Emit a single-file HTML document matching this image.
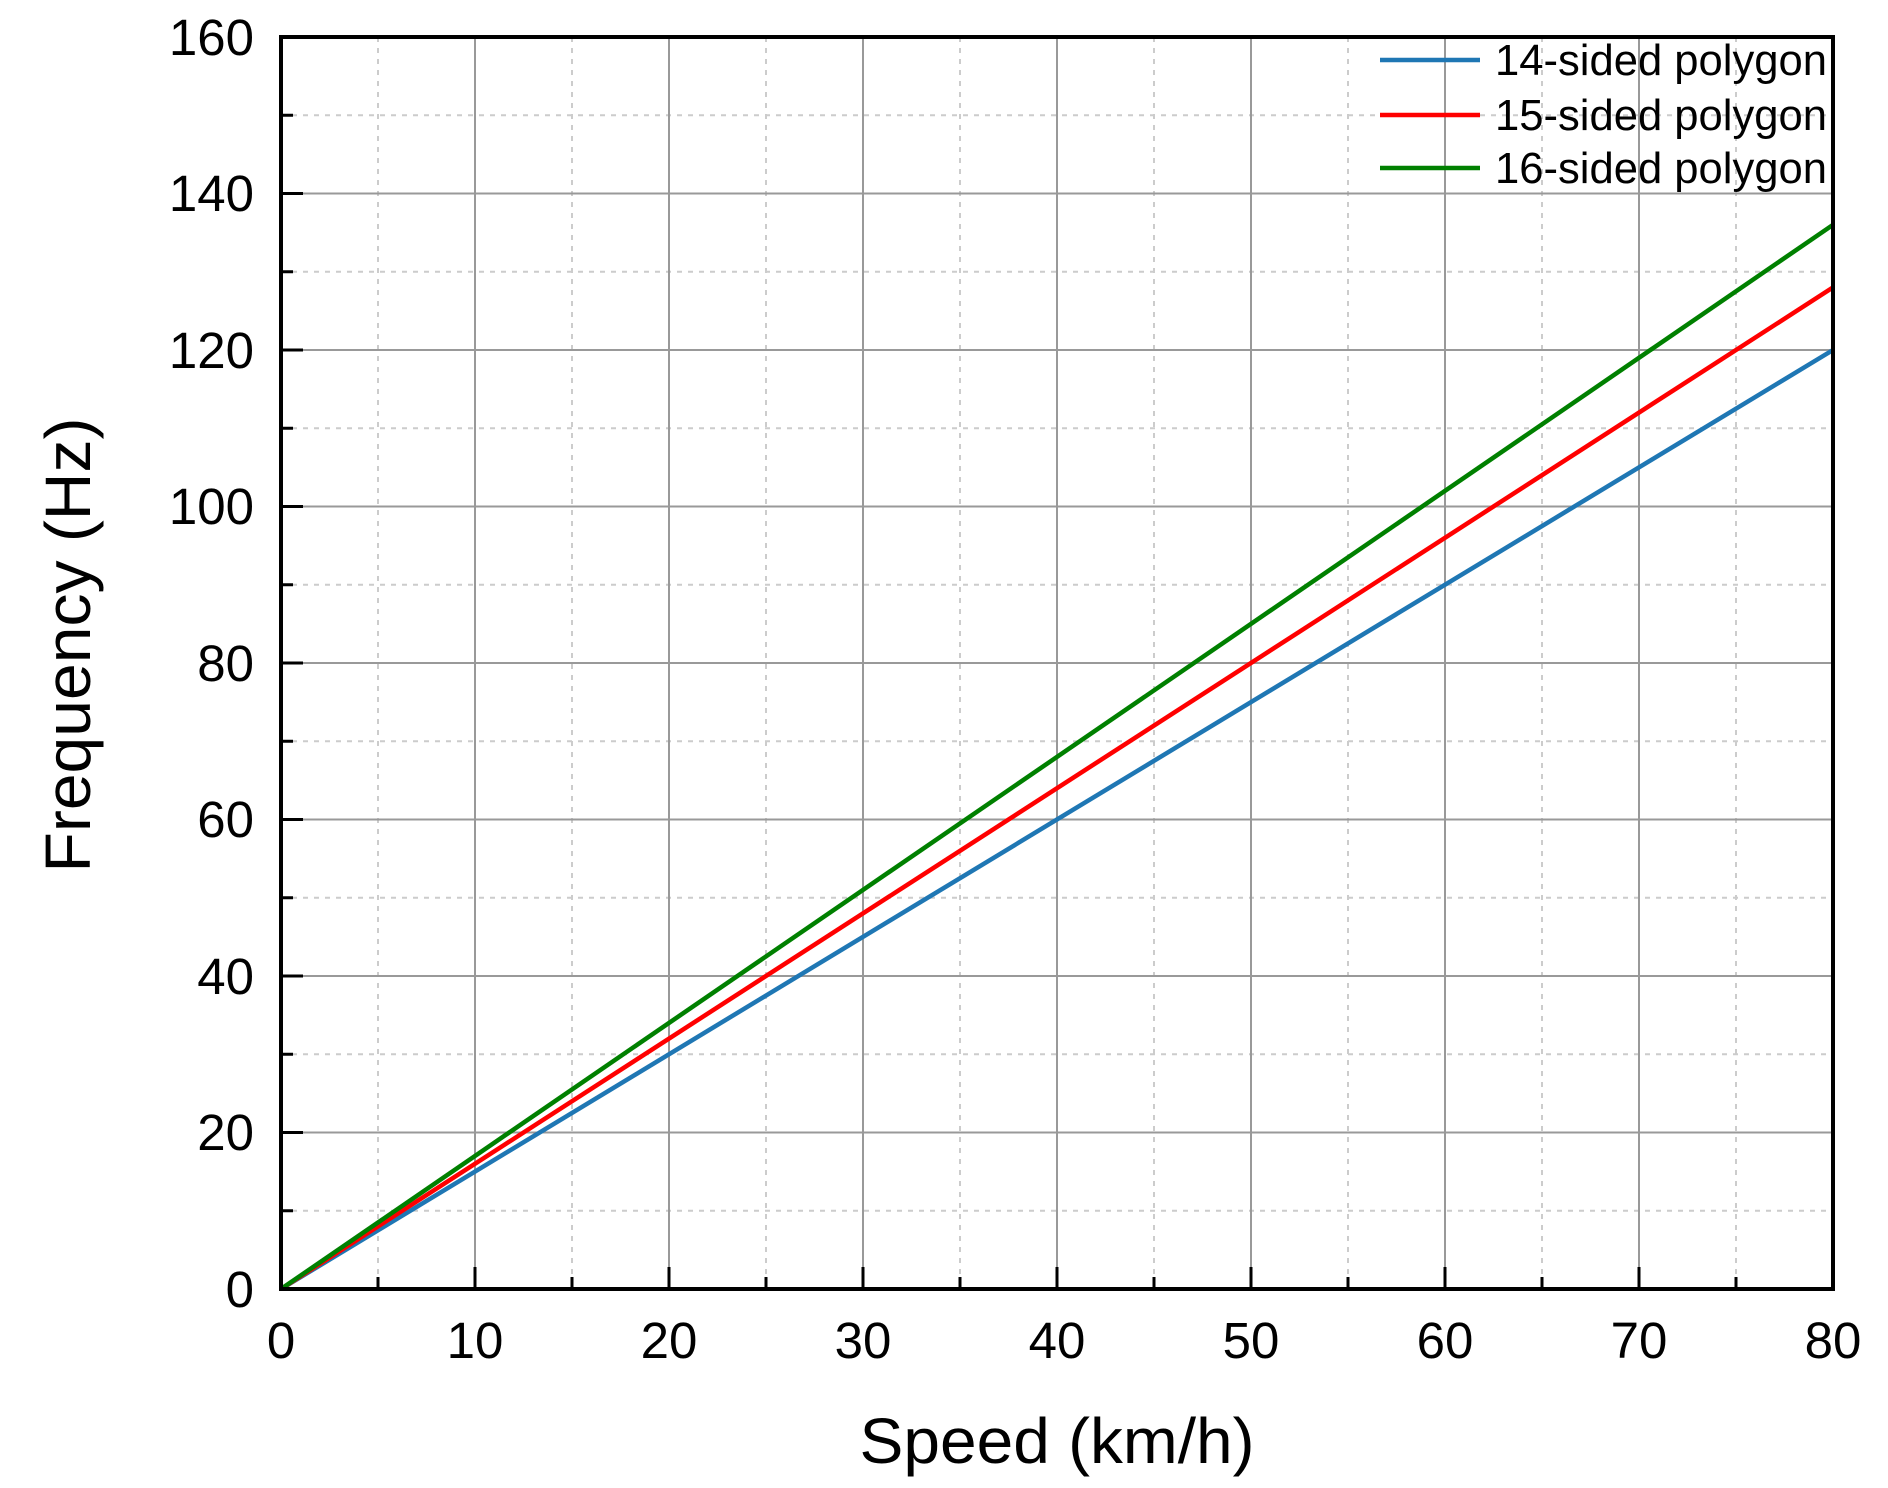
<!DOCTYPE html>
<html><head><meta charset="utf-8"><style>html,body{margin:0;padding:0;background:#fff}svg{display:block}</style></head>
<body>
<svg width="1888" height="1488" viewBox="0 0 1888 1488" xmlns="http://www.w3.org/2000/svg" font-family="Liberation Sans, sans-serif">
<g id="grid">
<g stroke="#ccc" stroke-width="2" stroke-dasharray="5,6">
<line x1="378" y1="37" x2="378" y2="1289"/><line x1="572" y1="37" x2="572" y2="1289"/><line x1="766" y1="37" x2="766" y2="1289"/><line x1="960" y1="37" x2="960" y2="1289"/><line x1="1154" y1="37" x2="1154" y2="1289"/><line x1="1348" y1="37" x2="1348" y2="1289"/><line x1="1542" y1="37" x2="1542" y2="1289"/><line x1="1736" y1="37" x2="1736" y2="1289"/>
<line x1="281" y1="115.25" x2="1833" y2="115.25"/><line x1="281" y1="271.75" x2="1833" y2="271.75"/><line x1="281" y1="428.25" x2="1833" y2="428.25"/><line x1="281" y1="584.75" x2="1833" y2="584.75"/><line x1="281" y1="741.25" x2="1833" y2="741.25"/><line x1="281" y1="897.75" x2="1833" y2="897.75"/><line x1="281" y1="1054.25" x2="1833" y2="1054.25"/><line x1="281" y1="1210.75" x2="1833" y2="1210.75"/>
</g>
<g stroke="#999" stroke-width="2">
<line x1="475" y1="37" x2="475" y2="1289"/><line x1="669" y1="37" x2="669" y2="1289"/><line x1="863" y1="37" x2="863" y2="1289"/><line x1="1057" y1="37" x2="1057" y2="1289"/><line x1="1251" y1="37" x2="1251" y2="1289"/><line x1="1445" y1="37" x2="1445" y2="1289"/><line x1="1639" y1="37" x2="1639" y2="1289"/>
<line x1="281" y1="193.5" x2="1833" y2="193.5"/><line x1="281" y1="350" x2="1833" y2="350"/><line x1="281" y1="506.5" x2="1833" y2="506.5"/><line x1="281" y1="663" x2="1833" y2="663"/><line x1="281" y1="819.5" x2="1833" y2="819.5"/><line x1="281" y1="976" x2="1833" y2="976"/><line x1="281" y1="1132.5" x2="1833" y2="1132.5"/>
</g>
</g>
<g stroke="#000" stroke-width="3">
<path d="M475 1289v-22M669 1289v-22M863 1289v-22M1057 1289v-22M1251 1289v-22M1445 1289v-22M1639 1289v-22"/>
<path d="M378 1289v-12M572 1289v-12M766 1289v-12M960 1289v-12M1154 1289v-12M1348 1289v-12M1542 1289v-12M1736 1289v-12"/>
<path d="M281 193.5h22M281 350h22M281 506.5h22M281 663h22M281 819.5h22M281 976h22M281 1132.5h22"/>
<path d="M281 115.25h12M281 271.75h12M281 428.25h12M281 584.75h12M281 741.25h12M281 897.75h12M281 1054.25h12M281 1210.75h12"/>
</g>
<g stroke-width="4.5" fill="none">
<line x1="281" y1="1289" x2="1833" y2="350" stroke="#1f77b4"/>
<line x1="281" y1="1289" x2="1833" y2="287.4" stroke="#ff0000"/>
<line x1="281" y1="1289" x2="1833" y2="224.8" stroke="#008000"/>
</g>
<rect x="281" y="37" width="1552" height="1252" fill="none" stroke="#000" stroke-width="4"/>
<line x1="1380" y1="60" x2="1480" y2="60" stroke="#1f77b4" stroke-width="4.5"/>
<line x1="1380" y1="115" x2="1480" y2="115" stroke="#ff0000" stroke-width="4.5"/>
<line x1="1380" y1="168" x2="1480" y2="168" stroke="#008000" stroke-width="4.5"/>
<g font-size="44" fill="#000">
<text x="1495" y="75" textLength="332" lengthAdjust="spacingAndGlyphs">14-sided polygon</text>
<text x="1495" y="130" textLength="332" lengthAdjust="spacingAndGlyphs">15-sided polygon</text>
<text x="1495" y="183" textLength="332" lengthAdjust="spacingAndGlyphs">16-sided polygon</text>
</g>
<g font-size="51" text-anchor="end" fill="#000">
<text x="254" y="55">160</text><text x="254" y="211">140</text><text x="254" y="368">120</text><text x="254" y="524">100</text><text x="254" y="681">80</text><text x="254" y="837">60</text><text x="254" y="994">40</text><text x="254" y="1150">20</text><text x="254" y="1307">0</text>
</g>
<g font-size="51" text-anchor="middle" fill="#000">
<text x="281" y="1358">0</text><text x="475" y="1358">10</text><text x="669" y="1358">20</text><text x="863" y="1358">30</text><text x="1057" y="1358">40</text><text x="1251" y="1358">50</text><text x="1445" y="1358">60</text><text x="1639" y="1358">70</text><text x="1833" y="1358">80</text>
</g>
<text x="1057" y="1463" font-size="64" text-anchor="middle" textLength="395" lengthAdjust="spacingAndGlyphs">Speed (km/h)</text>
<text transform="translate(90,645) rotate(-90)" font-size="64" text-anchor="middle" textLength="455" lengthAdjust="spacingAndGlyphs">Frequency (Hz)</text>
</svg>
</body></html>
